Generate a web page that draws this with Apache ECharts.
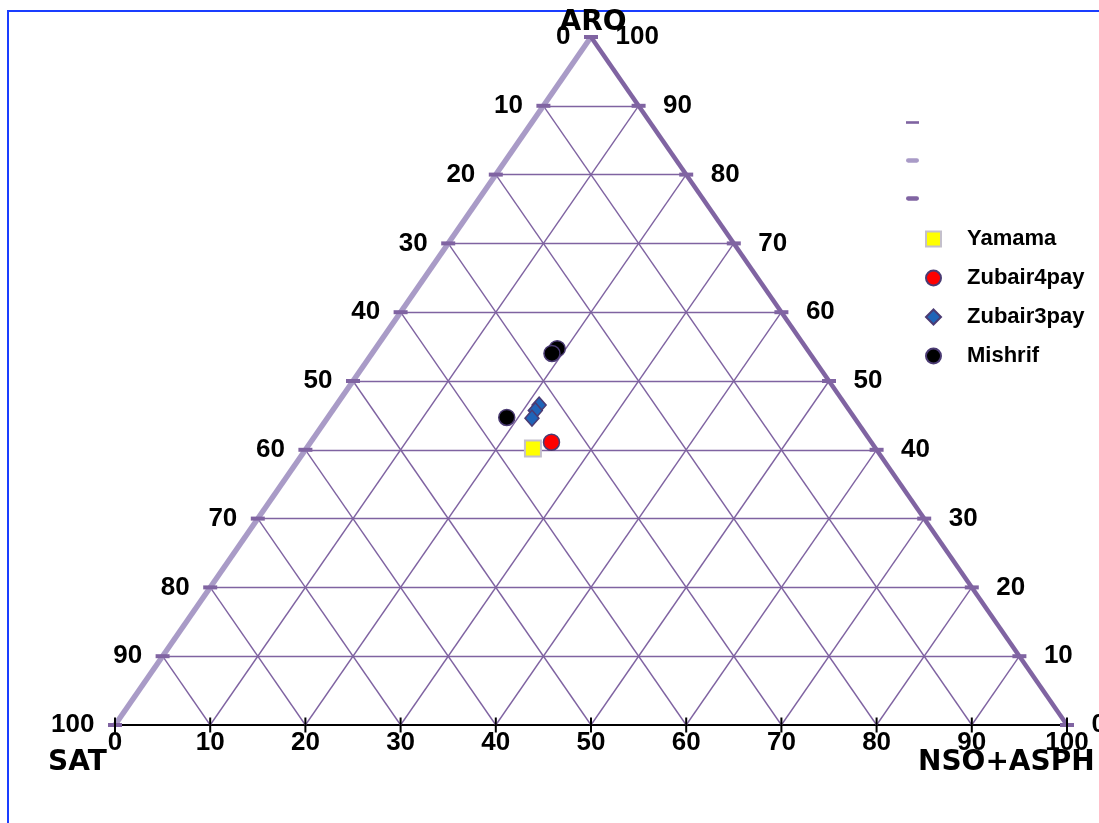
<!DOCTYPE html>
<html><head><meta charset="utf-8">
<script src="https://cdn.jsdelivr.net/npm/echarts@6/dist/echarts.min.js"></script>
<style>html,body{margin:0;padding:0;background:#fff}#c{width:1099px;height:823px}</style>
</head><body><div id="c"></div>
<script>
// ternary tick levels (percent)
const levels = [0,10,20,30,40,50,60,70,80,90,100];
const innerLevels = [10,20,30,40,50,60,70,80,90];
const bottomTickLabels = ['0','10','20','30','40','50','60','70','80','90','100'];
// samples as [SAT, ARO, NSO+ASPH]
const yamama = [[36.0, 40.2, 23.8]];
const zubair4pay = [[33.6, 41.1, 25.3]];
const zubair3pay = [[32.2, 46.5, 21.3], [33.0, 45.7, 21.3], [33.9, 44.6, 21.5]];
const mishrif = [[26.2, 54.7, 19.1], [27.1, 54.0, 18.9], [36.5, 44.7, 18.8]];

// ternary -> cartesian (x along the base = NSO + ARO/2, y = ARO)
function tern(p){ return [p[2] + p[1] / 2, p[1]]; }
function leftEdge(a){ return [a / 2, a]; }
function rightEdge(a){ return [100 - a / 2, a]; }

const gridSegs = [];
innerLevels.forEach(a => gridSegs.push({coords: [leftEdge(a), rightEdge(a)]}));           // constant ARO
innerLevels.forEach(n => gridSegs.push({coords: [[n, 0], rightEdge(100 - n)]}));          // constant NSO
innerLevels.forEach(s => gridSegs.push({coords: [[100 - s, 0], leftEdge(100 - s)]}));     // constant SAT

const numFont = {fontFamily: 'Liberation Sans', fontWeight: 'bold', fontSize: 26, color: '#000', opacity: 1};

const chart = echarts.init(document.getElementById('c'));
chart.setOption({
  animation: false,
  backgroundColor: '#fff',
  grid: {left: 115, right: 32, top: 37, bottom: 98},
  xAxis: {type: 'value', min: 0, max: 100, interval: 10,
    axisLine: {show: true, lineStyle: {color: '#000', width: 2}},
    axisTick: {show: false}, splitLine: {show: false},
    axisLabel: Object.assign({margin: 5, formatter: v => bottomTickLabels[Math.round(v / 10)]}, numFont)},
  yAxis: {type: 'value', min: 0, max: 100, show: false},
  legend: [
    {orient: 'vertical', left: 901, top: 111, itemWidth: 13, itemHeight: 13, itemGap: 25,
     selectedMode: false,
     textStyle: {fontSize: 12, lineHeight: 13},
     data: [
       {name: ' ', icon: 'path://M0,0H10V2H0Z', itemStyle: {color: '#7f63a1', borderWidth: 0}},
       {name: '  ', icon: 'path://M1,0H9A1,1 0 0 1 9,4H1A1,1 0 0 1 1,0Z', itemStyle: {color: '#a99bc7', borderWidth: 0}},
       {name: '   ', icon: 'path://M1,0H9A1,1 0 0 1 9,4H1A1,1 0 0 1 1,0Z', itemStyle: {color: '#8064a2', borderWidth: 0}}
     ]},
    {orient: 'vertical', left: 920, top: 223, itemWidth: 15, itemHeight: 15, itemGap: 17,
     selectedMode: false,
     textStyle: {fontFamily: 'Liberation Sans', fontWeight: 'bold', fontSize: 22, lineHeight: 17, color: '#000', padding: [0, 0, 0, 21]},
     data: ['Yamama', 'Zubair4pay', 'Zubair3pay', 'Mishrif']}
  ],
  graphic: [
    {type: 'line', shape: {x1: 7, y1: 11, x2: 1099, y2: 11}, style: {stroke: '#1a3dff', lineWidth: 2}},
    {type: 'line', shape: {x1: 8, y1: 10, x2: 8, y2: 823}, style: {stroke: '#1a3dff', lineWidth: 2}},
    {type: 'text', style: {x: 593, y: 23, text: 'ARO', textAlign: 'center', textVerticalAlign: 'middle',
      font: 'bold 28px "DejaVu Sans"', fill: '#000'}, z: 20},
    {type: 'text', style: {x: 48, y: 763, text: 'SAT', textAlign: 'left', textVerticalAlign: 'middle',
      font: 'bold 28px "DejaVu Sans"', fill: '#000'}, z: 20},
    {type: 'text', style: {x: 918, y: 763, text: 'NSO+ASPH', textAlign: 'left', textVerticalAlign: 'middle',
      font: 'bold 28px "DejaVu Sans"', fill: '#000'}, z: 20}
  ],
  series: [
    {name: ' ', type: 'lines', coordinateSystem: 'cartesian2d', silent: true, z: 2,
     lineStyle: {color: '#7f63a1', width: 1.4, opacity: 1}, data: gridSegs},
    {name: '  ', type: 'lines', coordinateSystem: 'cartesian2d', silent: true, z: 3,
     lineStyle: {color: '#a99bc7', width: 5.5, opacity: 1}, data: [{coords: [leftEdge(0), leftEdge(100)]}]},
    {name: '   ', type: 'lines', coordinateSystem: 'cartesian2d', silent: true, z: 3,
     lineStyle: {color: '#8064a2', width: 4.5, opacity: 1}, data: [{coords: [rightEdge(100), rightEdge(0)]}]},
    {type: 'scatter', silent: true, z: 4, symbol: 'rect', symbolSize: [14, 4],
     itemStyle: {color: '#8064a2', opacity: 1},
     data: levels.map(leftEdge).concat(levels.map(rightEdge))},
    {type: 'scatter', silent: true, z: 4, symbol: 'rect', symbolSize: [2, 15],
     itemStyle: {color: '#000', opacity: 1}, data: levels.map(v => [v, 0])},
    {type: 'scatter', silent: true, z: 5, symbolSize: 1, itemStyle: {color: 'rgba(0,0,0,0)', opacity: 1},
     label: Object.assign({show: true, position: 'left', distance: 20, formatter: p => String(100 - p.value[1])}, numFont),
     data: levels.map(leftEdge)},
    {type: 'scatter', silent: true, z: 5, symbolSize: 1, itemStyle: {color: 'rgba(0,0,0,0)', opacity: 1},
     label: Object.assign({show: true, position: 'right', distance: 24, formatter: p => String(p.value[1])}, numFont),
     data: levels.map(rightEdge)},
    {name: 'Yamama', type: 'scatter', z: 10, symbol: 'rect', symbolSize: 16,
     itemStyle: {color: '#ffff00', borderColor: '#c4c0cc', borderWidth: 2, opacity: 1}, data: yamama.map(tern)},
    {name: 'Zubair4pay', type: 'scatter', z: 10, symbol: 'circle', symbolSize: 16,
     itemStyle: {color: '#ff0000', borderColor: '#4b3b73', borderWidth: 1.5, opacity: 1}, data: zubair4pay.map(tern)},
    {name: 'Zubair3pay', type: 'scatter', z: 10, symbol: 'diamond', symbolSize: [14, 16],
     itemStyle: {color: '#1f64b8', borderColor: '#4b3b73', borderWidth: 1.5, opacity: 1}, data: zubair3pay.map(tern)},
    {name: 'Mishrif', type: 'scatter', z: 10, symbol: 'circle', symbolSize: 16,
     itemStyle: {color: '#000000', borderColor: '#4b3b73', borderWidth: 1.5, opacity: 1}, data: mishrif.map(tern)}
  ]
});
</script>
</body></html>
